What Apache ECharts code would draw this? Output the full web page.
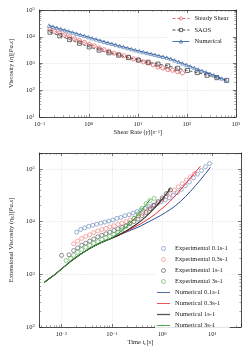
<!DOCTYPE html>
<html><head><meta charset="utf-8">
<script src="https://cdn.jsdelivr.net/npm/echarts@6/dist/echarts.min.js"></script>
<style>html,body{margin:0;padding:0;background:#fff}#c{width:249px;height:353px}</style>
</head><body><div id="c"></div>
<script>
// ---------- Top chart data ----------
const numRate = [0.155,0.186,0.224,0.269,0.324,0.389,0.468,0.562,0.676,0.813,0.977,1.175,1.413,1.698,2.042,2.455,2.951,3.548,4.266,5.129,6.166,7.413,8.913,10.72,12.88,15.49,18.62,22.39,26.92,32.36,38.90,46.77,56.23,67.61,81.28,97.72,117.5,141.3,169.8,204.2,245.5,295.1,354.8,426.6,512.9,616.6];
const numVisc = [26300,23800,21600,19500,17700,16000,14500,13100,11900,10800,9750,8810,7980,7220,6530,5970,5460,4980,4550,4160,3800,3470,3160,2920,2690,2480,2290,2110,1940,1790,1650,1490,1310,1150,1010,887,778,684,601,528,465,414,363,316,275,240];
const ssRate = [0.162,0.204,0.257,0.324,0.407,0.513,0.646,0.813,1.023,1.288,1.622,2.042,2.570,3.236,4.074,5.129,6.457,8.128,10.23,12.88,16.22,20.42,25.70,32.36,40.74,51.29,64.57,81.28];
const ssVisc = [18600,15900,13900,11600,9890,8300,7200,6150,5250,4600,3820,3260,2850,2440,2210,1940,1740,1500,1320,1160,1040,887,740,679,590,560,494,446];
const saosRate = [0.162,0.257,0.407,0.646,1.023,1.622,2.570,4.074,6.457,10.23,16.22,25.70,40.74,64.57,102.3,162.2,257.0,407.4,645.7];
const saosVisc = [14800,10800,7830,5710,4170,3160,2510,2040,1660,1350,1120,955,813,661,550,457,363,295,234];
const topXTicks = [0.1, 1, 10, 100, 1000];
const topYTicks = [10, 100, 1000, 10000, 100000];

// ---------- Bottom chart data ----------
const expT01 = [0.0200,0.0240,0.0288,0.0347,0.0417,0.0501,0.0603,0.0724,0.0871,0.105,0.126,0.151,0.182,0.219,0.263,0.316,0.380,0.457,0.550,0.661,0.794,0.955,1.15,1.38,1.66,2.00,2.40,2.88,3.47,4.17,5.01,6.03,7.24,8.71];
const expEta01 = [6310,7080,7590,8130,8510,8910,9330,9770,10200,10700,11500,12000,12900,13500,14500,15500,16600,17800,19100,20400,21900,24000,25700,28200,31600,35500,40700,47900,56200,67600,79400,93300,110000,126000];
const expT03 = [0.0174,0.0209,0.0251,0.0302,0.0363,0.0437,0.0525,0.0631,0.0759,0.0912,0.110,0.132,0.158,0.191,0.229,0.275,0.331,0.398,0.479,0.575,0.692,0.832,1.00,1.20,1.45,1.74,2.09,2.51,3.02,3.63,4.37];
const expEta03 = [3800,4270,4790,5250,5620,6170,6610,7080,7410,7940,8320,8910,9330,10000,10700,11500,12600,14100,15800,17800,20000,22900,26300,30200,34700,39800,45700,52500,61700,70800,81300];
const expT1 = [0.0100,0.0141,0.0174,0.0209,0.0251,0.0302,0.0363,0.0437,0.0525,0.0631,0.0759,0.0912,0.110,0.132,0.158,0.191,0.229,0.275,0.331,0.398,0.479,0.575,0.692,0.832,1.00,1.20,1.45];
const expEta1 = [2290,2340,2820,3160,3550,3890,4270,4680,5130,5500,5890,6310,6760,7240,7760,8320,9120,10000,11200,12900,14800,17400,20400,24000,28200,33900,39800];
const expT3 = [0.0123,0.0151,0.0174,0.0209,0.0251,0.0302,0.0363,0.0437,0.0525,0.0631,0.0759,0.0912,0.110,0.132,0.158,0.191,0.229,0.275,0.331,0.398,0.479,0.575,0.692];
const expEta3 = [1820,2000,2290,2630,2950,3240,3550,3890,4170,4570,4900,5250,5750,6310,7080,8130,9550,11500,14100,17800,21900,25100,27500];
const numTime = [0.00457,0.00575,0.00724,0.00912,0.0115,0.0145,0.0182,0.0229,0.0288,0.0363,0.0457,0.0575,0.0724,0.0912,0.115,0.145,0.182,0.229,0.288,0.363,0.457,0.575,0.724,0.912,1.15,1.45,1.82,2.29,2.88,3.63,4.57,5.75,7.24,9.12];
const numEta01 = [708,832,977,1175,1413,1698,1995,2344,2692,3090,3467,3890,4266,4677,5129,5623,6166,6761,7413,8128,9120,10230,11480,12880,14790,16980,19950,23990,29510,37150,47860,61660,81280,107200];
const numEta03 = [708,832,977,1175,1413,1698,1995,2344,2692,3090,3467,3890,4266,4677,5129,5623,6310,7079,7943,8913,10230,11750,13800,16600,19950,24550,30900,39810,51290,67610,87100,112200];
const numEta1 = [708,832,977,1175,1413,1698,1995,2344,2692,3090,3467,3890,4266,4677,5129,5754,6457,7413,8511,10000,12020,14790,18620,23990,31620,42660];
const numEta3 = [708,832,977,1175,1413,1698,1995,2344,2692,3090,3467,3890,4266,4677,5370,6310,7586,9333,11750,15140,19950,26300];
const botXTicks = [0.01, 0.1, 1, 10];
const botYTicks = [100, 1000, 10000, 100000];

const FONT = 'Liberation Serif';
const TXT = '#222';
const FS = 6.5;
function zip(a, b) { return b.map((v, i) => [a[i], v]); }
function tickLabel(ticks) {
  return function (v) {
    for (const t of ticks) {
      if (Math.abs(Math.log10(v) - Math.log10(t)) < 1e-6) {
        const e = Math.round(Math.log10(t));
        return '10{sup|' + (e < 0 ? '\u2212' + (-e) : e) + '}';
      }
    }
    return '';
  };
}
const rich = {
  sup: { fontFamily: FONT, fontSize: 4.6, color: TXT, verticalAlign: 'top' },
  sub: { fontFamily: FONT, fontSize: 4.8, color: TXT, verticalAlign: 'bottom' },
  i: { fontFamily: FONT, fontSize: FS, color: TXT, fontStyle: 'italic' },
  n: { fontFamily: FONT, fontSize: FS, color: TXT }
};
const gridLine = { show: true, lineStyle: { color: '#d0d0d0', width: 0.6, type: [1, 1.5] } };
const axLine = { show: true, lineStyle: { color: '#222', width: 0.8 } };
const tick = { show: true, inside: true, length: 3, lineStyle: { color: '#222', width: 0.6 } };
const minor = { show: true, splitNumber: 9, length: 1.6, lineStyle: { color: '#444', width: 0.5 } };

function mainX(g, min, max, ticks, name, gap) {
  return { type: 'log', gridIndex: g, min, max, logBase: 10, splitNumber: 4,
    axisLine: axLine, axisTick: tick, minorTick: minor, splitLine: gridLine,
    axisLabel: { formatter: tickLabel(ticks), fontFamily: FONT, fontSize: FS, color: TXT, margin: 4, rich },
    name, nameLocation: 'middle', nameGap: gap,
    nameTextStyle: { fontFamily: FONT, fontSize: FS, color: TXT, rich } };
}
function mirrorX(g, min, max) {
  return { type: 'log', gridIndex: g, min, max, position: 'top', splitNumber: 4,
    axisLine: axLine, axisTick: tick, minorTick: minor, splitLine: { show: false }, axisLabel: { show: false } };
}
function mainY(g, min, max, ticks, name, gap) {
  return { type: 'log', gridIndex: g, min, max, logBase: 10, splitNumber: 4,
    axisLine: axLine, axisTick: tick, minorTick: minor, splitLine: gridLine,
    axisLabel: { formatter: tickLabel(ticks), fontFamily: FONT, fontSize: FS, color: TXT, margin: 5, rich },
    name, nameLocation: 'middle', nameGap: gap,
    nameTextStyle: { fontFamily: FONT, fontSize: FS, color: TXT, rich } };
}
function mirrorY(g, min, max) {
  return { type: 'log', gridIndex: g, min, max, position: 'right', splitNumber: 4,
    axisLine: axLine, axisTick: tick, minorTick: minor, splitLine: { show: false }, axisLabel: { show: false } };
}

const C = {
  ss: '#e05a5e', saos: '#333333', num: '#3d68a6',
  e01: '#4f74ad', e03: '#ef6b6b', e1: '#3a3a3a', e3: '#43a543',
  n01: '#2d5394', n03: '#e8333d', n1: '#555555', n3: '#2f9e2f'
};
const NOFILL = 'rgba(255,255,255,0)';
function hollow(col, w) { return { color: NOFILL, borderColor: col, borderWidth: w }; }
const LINE_ICON = 'path://M0,0h20v1.3h-20z';
const LINE_ICON_THICK = 'path://M0,0h20v2h-20z';

const legendText = { fontFamily: FONT, fontSize: FS, color: TXT };
const chart = echarts.init(document.getElementById('c'), null, { renderer: 'canvas' });
chart.setOption({
  animation: false,
  backgroundColor: '#fff',
  grid: [
    { left: 29, top: 10, width: 207, height: 107 },
    { left: 29, top: 153, width: 212, height: 174 }
  ],
  xAxis: [
    mainX(0, 0.1, 1000, topXTicks, 'Shear Rate ({i|\u03b3\u0307}{n|)[}{i|s}{sup|\u22121}{n|]}', 11),
    mirrorX(0, 0.1, 1000),
    mainX(1, 0.00368, 36.8, botXTicks, 'Time {i|t}{sub|e}{n|[}{i|s}{n|]}', 12),
    mirrorX(1, 0.00368, 36.8)
  ],
  yAxis: [
    mainY(0, 10, 100000, topYTicks, 'Viscosity ({i|\u03b7}{n|)[}{i|Pa.s}{n|]}', 15),
    mirrorY(0, 10, 100000),
    mainY(1, 100, 200000, botYTicks, 'Extensional Viscosity ({i|\u03b7}{sub|E}{n|)[}{i|Pa.s}{n|]}', 15),
    mirrorY(1, 100, 200000)
  ],
  legend: [
    { data: ['Steady Shear', 'SAOS', 'Numerical'], orient: 'vertical', left: 170, top: 13,
      itemWidth: 17, itemHeight: 4, itemGap: 4.5, padding: [2, 2, 2, 2],
      itemStyle: { borderWidth: 0.7 }, lineStyle: { width: 0.9 },
      backgroundColor: 'rgba(255,255,255,0.85)', textStyle: legendText },
    { data: ['Experimental 0.1s-1', 'Experimental 0.3s-1', 'Experimental 1s-1', 'Experimental 3s-1',
             { name: 'Numerical 0.1s-1', icon: LINE_ICON }, { name: 'Numerical 0.3s-1', icon: LINE_ICON },
             { name: 'Numerical 1s-1', icon: LINE_ICON_THICK }, { name: 'Numerical 3s-1', icon: LINE_ICON }],
      orient: 'vertical', left: 155, top: 243, itemWidth: 13, itemHeight: 4, itemGap: 4, padding: [2, 2, 2, 2],
      itemStyle: { borderWidth: 0.7 }, lineStyle: { width: 1 },
      backgroundColor: 'rgba(255,255,255,0.85)', textStyle: legendText }
  ],
  series: [
    { name: 'Steady Shear', type: 'line', xAxisIndex: 0, yAxisIndex: 0, data: zip(ssRate, ssVisc),
      symbol: 'circle', symbolSize: 4.2, showAllSymbol: true,
      lineStyle: { color: C.ss, width: 0.8, type: [3, 2] }, itemStyle: hollow(C.ss, 0.7) },
    { name: 'SAOS', type: 'line', xAxisIndex: 0, yAxisIndex: 0, data: zip(saosRate, saosVisc),
      symbol: 'rect', symbolSize: 4, showAllSymbol: true,
      lineStyle: { color: C.saos, width: 0.8, type: [3, 2] }, itemStyle: hollow(C.saos, 0.7) },
    { name: 'Numerical', type: 'line', xAxisIndex: 0, yAxisIndex: 0, data: zip(numRate, numVisc),
      symbol: 'triangle', symbolSize: 3.5, showAllSymbol: true,
      lineStyle: { color: C.num, width: 1 }, itemStyle: hollow(C.num, 0.6) },

    { name: 'Experimental 0.1s-1', type: 'scatter', xAxisIndex: 2, yAxisIndex: 2, data: zip(expT01, expEta01),
      symbol: 'circle', symbolSize: 4, itemStyle: hollow(C.e01, 0.7) },
    { name: 'Experimental 0.3s-1', type: 'scatter', xAxisIndex: 2, yAxisIndex: 2, data: zip(expT03, expEta03),
      symbol: 'circle', symbolSize: 4, itemStyle: hollow(C.e03, 0.7) },
    { name: 'Experimental 1s-1', type: 'scatter', xAxisIndex: 2, yAxisIndex: 2, data: zip(expT1, expEta1),
      symbol: 'circle', symbolSize: 4, itemStyle: hollow(C.e1, 0.7) },
    { name: 'Experimental 3s-1', type: 'scatter', xAxisIndex: 2, yAxisIndex: 2, data: zip(expT3, expEta3),
      symbol: 'circle', symbolSize: 4, itemStyle: hollow(C.e3, 0.7) },

    { name: 'Numerical 0.1s-1', type: 'line', xAxisIndex: 2, yAxisIndex: 2, data: zip(numTime, numEta01),
      symbol: 'none', lineStyle: { color: C.n01, width: 1 }, itemStyle: { color: C.n01 } },
    { name: 'Numerical 0.3s-1', type: 'line', xAxisIndex: 2, yAxisIndex: 2, data: zip(numTime, numEta03),
      symbol: 'none', lineStyle: { color: C.n03, width: 1 }, itemStyle: { color: C.n03 } },
    { name: 'Numerical 1s-1', type: 'line', xAxisIndex: 2, yAxisIndex: 2, data: zip(numTime, numEta1),
      symbol: 'none', lineStyle: { color: '#2a2a2a', width: 1.1 }, itemStyle: { color: C.n1 } },
    { name: 'Numerical 3s-1', type: 'line', xAxisIndex: 2, yAxisIndex: 2, data: zip(numTime, numEta3),
      symbol: 'none', lineStyle: { color: C.n3, width: 1 }, itemStyle: { color: C.n3 } }
  ]
});
</script></body></html>
